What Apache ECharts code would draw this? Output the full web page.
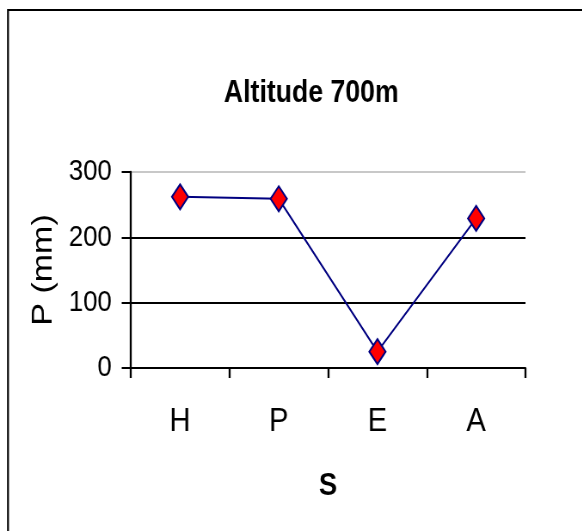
<!DOCTYPE html>
<html>
<head>
<meta charset="utf-8">
<script src="https://cdn.jsdelivr.net/npm/echarts@6/dist/echarts.min.js"></script>
<style>
  html, body { margin: 0; padding: 0; background: #fff; overflow: hidden; width: 582px; height: 531px; }
  /* chart drawn wider, then squeezed horizontally for a condensed look */
  #chart { width: 677px; height: 531px; transform: scaleX(0.86); transform-origin: 0 0; }
</style>
</head>
<body>
<div id="chart"></div>
<script>
// Seasons and precipitation (mm) at 700 m altitude
const seasons = ['H', 'P', 'E', 'A'];
const precipitation = [262, 259, 25, 229];
const yTicks = [0, 100, 200, 300];

const font = '"Liberation Sans", Arial, sans-serif';

const chart = echarts.init(document.getElementById('chart'), null, { renderer: 'canvas' });

chart.setOption({
  backgroundColor: '#ffffff',
  animation: false,
  title: {
    text: 'Altitude 700m',
    left: 357,
    top: 73,
    textAlign: 'center',
    textStyle: { fontFamily: font, fontSize: 31, fontWeight: 'bold', color: '#000' }
  },
  graphic: [{
    type: 'rect',
    shape: { x: 9.3, y: 10, width: 760, height: 600 },
    style: { fill: 'none', stroke: '#000', lineWidth: 2.2 },
    silent: true
  }],
  grid: { left: 152, right: 66, top: 172, bottom: 163, containLabel: false },
  xAxis: {
    type: 'category',
    data: seasons,
    boundaryGap: true,
    name: 'S',
    nameLocation: 'middle',
    nameGap: 102,
    nameTextStyle: { fontFamily: font, fontSize: 32, fontWeight: 'bold', color: '#000' },
    axisLine: { lineStyle: { color: '#000', width: 2 } },
    axisTick: { show: true, length: 10, alignWithLabel: false, lineStyle: { color: '#000', width: 2.3 } },
    axisLabel: { margin: 37, fontFamily: font, fontSize: 34, color: '#000' },
    splitLine: { show: false }
  },
  yAxis: {
    type: 'value',
    min: yTicks[0],
    max: yTicks[yTicks.length - 1],
    interval: yTicks[1] - yTicks[0],
    name: 'P (mm)',
    nameLocation: 'middle',
    nameRotate: 90,
    nameGap: 84,
    nameTextStyle: { fontFamily: font, fontSize: 34, color: '#000' },
    axisLine: { show: true, lineStyle: { color: '#000', width: 2.3 } },
    axisTick: { show: true, inside: false, length: 10.5, lineStyle: { color: '#000', width: 2 } },
    axisLabel: { margin: 22, fontFamily: font, fontSize: 30, color: '#000' },
    splitLine: { show: true, lineStyle: { color: ['#000', '#000', '#000', '#c8c8c8'], width: 2 } }
  },
  series: [{
    type: 'line',
    data: precipitation,
    symbol: 'diamond',
    symbolSize: [19, 25],
    lineStyle: { color: '#000080', width: 2 },
    itemStyle: { color: '#ff0000', borderColor: '#000080', borderWidth: 2 }
  }]
});
</script>
</body>
</html>
